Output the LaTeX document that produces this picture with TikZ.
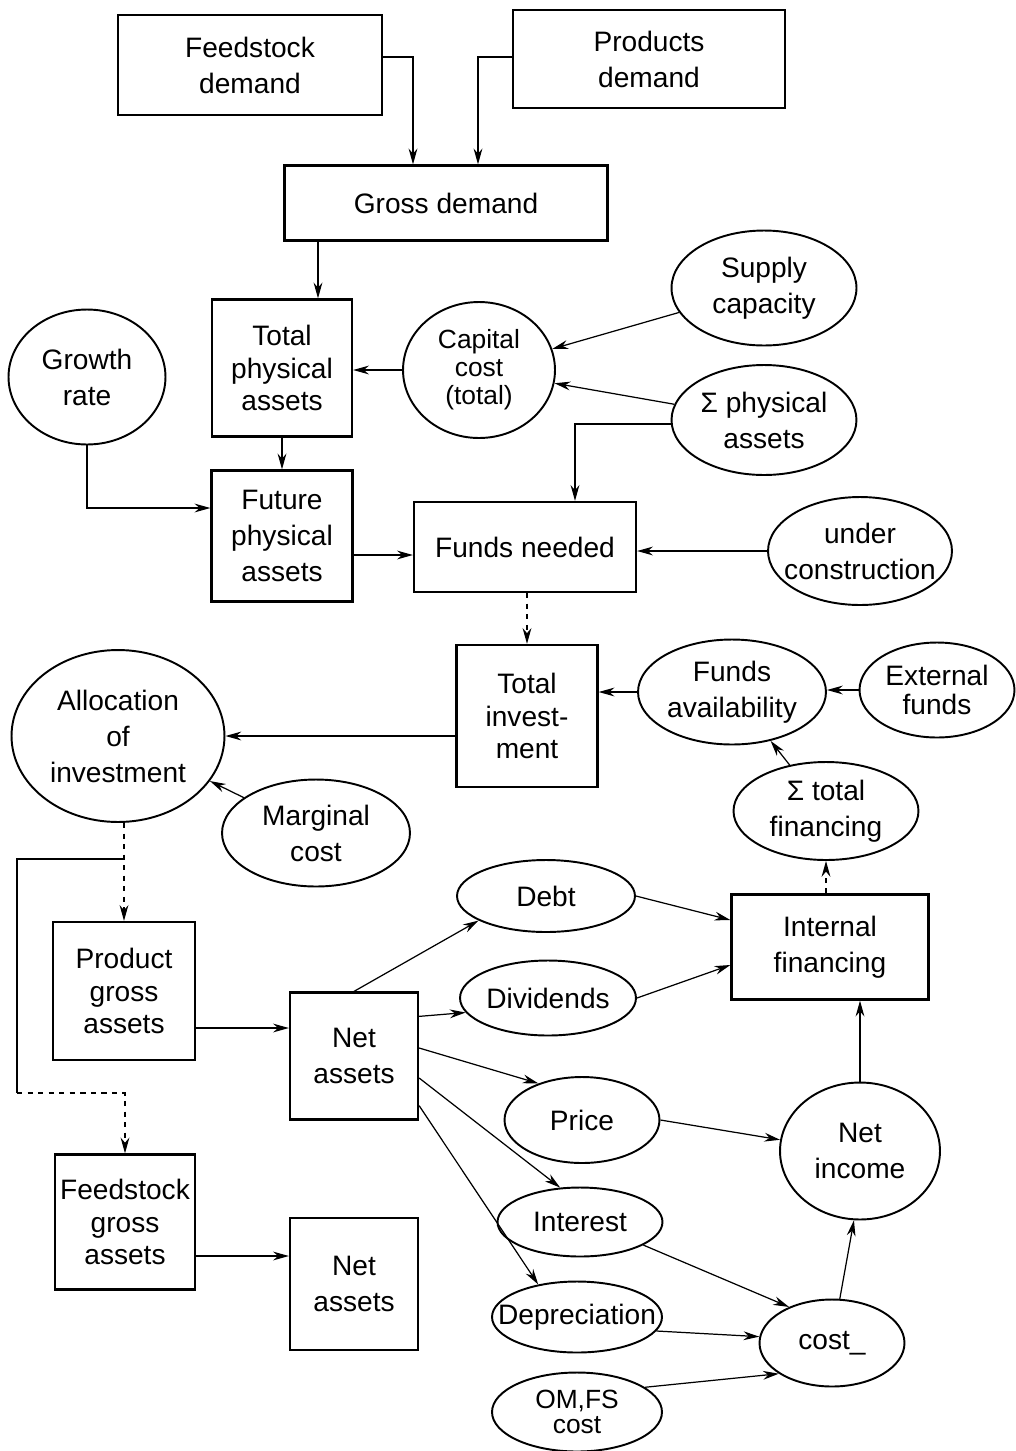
\documentclass[tikz,border=0pt]{standalone}
\usepackage{fontspec}
\setmainfont{Liberation Sans}
\usetikzlibrary{shapes.geometric,arrows.meta,calc}
\begin{document}
\begin{tikzpicture}[x=0.02cm,y=-0.02cm,
    font=\fontsize{16}{20.5}\selectfont,
    box/.style={rectangle,draw,line width=1.3pt,align=center,inner sep=2pt},
    oval/.style={ellipse,draw,line width=1.1pt,align=center,inner xsep=-0.5cm,inner ysep=-0.1cm},
    arr/.style={-{Stealth[length=9pt,width=5pt]},line width=0.7pt}]
  \useasboundingbox (0,0) rectangle (1016,1451);
  % boxes
  \node[box,minimum width=5.28cm,minimum height=2cm] (fd) at (250,65) {Feedstock\\demand};
  \node[box,minimum width=5.44cm,minimum height=1.96cm] (pd) at (649,59) {Products\\demand};
  \node[box,minimum width=6.46cm,minimum height=1.5cm] (gd) at (446,203) {Gross demand};
  \node[box,minimum width=2.8cm,minimum height=2.74cm,font=\fontsize{16}{18.5}\selectfont] (tpa) at (282,368) {Total\\physical\\assets};
  \node[box,minimum width=2.82cm,minimum height=2.62cm] (fpa) at (282,536) {Future\\physical\\assets};
  \node[box,minimum width=4.44cm,minimum height=1.8cm] (fn) at (525,547) {Funds needed};
  \node[box,minimum width=2.82cm,minimum height=2.84cm,font=\fontsize{16}{18.5}\selectfont] (ti) at (527,716) {Total\\invest-\\ment};
  \node[box,minimum width=3.94cm,minimum height=2.1cm] (inf) at (830,947) {Internal\\financing};
  \node[box,minimum width=2.84cm,minimum height=2.76cm,font=\fontsize{16}{18.5}\selectfont] (pga) at (124,991) {Product\\gross\\assets};
  \node[box,minimum width=2.56cm,minimum height=2.54cm] (na1) at (354,1056) {Net\\assets};
  \node[box,minimum width=2.8cm,minimum height=2.7cm,font=\fontsize{16}{18.5}\selectfont] (fga) at (125,1222) {Feedstock\\gross\\assets};
  \node[box,minimum width=2.56cm,minimum height=2.64cm] (na2) at (354,1284) {Net\\assets};
  % ovals
  \node[oval,minimum width=3.7cm,minimum height=2.3cm] (sc) at (764,288) {Supply\\capacity};
  \node[oval,minimum width=3.04cm,minimum height=2.72cm,font=\fontsize{15}{16}\selectfont] (cc) at (479,370) {Capital\\cost\\(total)};
  \node[oval,minimum width=3.14cm,minimum height=2.7cm] (gr) at (87,377) {Growth\\rate};
  \node[oval,minimum width=3.7cm,minimum height=2.2cm] (sp) at (764,420) {Σ physical\\assets};
  \node[oval,minimum width=3.68cm,minimum height=2.16cm] (uc) at (860,551) {under\\construction};
  \node[oval,minimum width=3.76cm,minimum height=2.1cm] (fa) at (732,692) {Funds\\availability};
  \node[oval,minimum width=3.1cm,minimum height=1.9cm,font=\fontsize{16}{17}\selectfont] (ef) at (937,690) {External\\funds};
  \node[oval,minimum width=4.26cm,minimum height=3.44cm] (ai) at (118,736) {Allocation\\of\\investment};
  \node[oval,minimum width=3.76cm,minimum height=2.14cm] (mc) at (316,833) {Marginal\\cost};
  \node[oval,minimum width=3.7cm,minimum height=1.96cm] (stf) at (826,811) {Σ total\\financing};
  \node[oval,minimum width=3.56cm,minimum height=1.44cm] (debt) at (546,896) {Debt};
  \node[oval,minimum width=3.52cm,minimum height=1.5cm] (div) at (548,998) {Dividends};
  \node[oval,minimum width=3.1cm,minimum height=1.72cm] (price) at (582,1120) {Price};
  \node[oval,minimum width=3.2cm,minimum height=2.74cm] (ni) at (860,1151) {Net\\income};
  \node[oval,minimum width=3.3cm,minimum height=1.38cm] (int) at (580,1222) {Interest};
  \node[oval,minimum width=3.4cm,minimum height=1.42cm] (dep) at (577,1317) {Depreciation};
  \node[oval,minimum width=2.9cm,minimum height=1.74cm] (cost) at (832,1343) {cost\_};
  \node[oval,minimum width=3.4cm,minimum height=1.58cm,font=\fontsize{15}{14}\selectfont] (om) at (577,1412) {OM,FS\\cost};
  % demand and assets
  \draw[arr] ($(fd.east)+(0,-8)$) -| ($(gd.north)+(-33,0)$);
  \draw[arr] ($(pd.west)+(0,-2)$) -| ($(gd.north)+(32,0)$);
  \draw[arr] ($(gd.south)+(-128,0)$) coordinate (g1) -- (g1 |- tpa.north);
  \draw[arr] (tpa) -- (fpa);
  \draw[arr] (cc.west) -- (cc.west -| tpa.east);
  \draw[arr] (sc) -- (cc);
  \draw[arr] (sp) -- (cc);
  \draw[arr] ($(sp.west)+(0,4)$) -| ($(fn.north)+(50,0)$);
  \draw[arr] (gr.south) |- ($(fpa.west)+(0,-28)$);
  \draw[arr] ($(fpa.east)+(0,19)$) coordinate (f1) -- (f1 -| fn.west);
  \draw[arr] (uc.west) -- (uc.west -| fn.east);
  % investment
  \draw[arr,dashed] (fn.south -| ti.north) -- (ti.north);
  \draw[arr] (fa.west) -- (fa.west -| ti.east);
  \draw[arr] (ef.west) -- (ef.west -| fa.east);
  \draw[arr] (stf) -- (fa);
  \draw[arr,dashed] (inf.north -| stf.south) -- (stf.south);
  \draw[arr] (ti.west |- ai.east) -- (ai.east);
  \draw[arr] (mc) -- (ai);
  \draw[arr,dashed] (ai.south -| pga.north) -- (pga.north);
  \coordinate (br) at ($(ai.south -| pga.north)+(0,36)$);
  \coordinate (lc) at (17,1093);
  \draw[line width=0.7pt] (br) -| (lc);
  \draw[arr,dashed] (lc) -| (fga.north);
  \draw[arr] ($(pga.east)+(0,37)$) coordinate (p1) -- (p1 -| na1.west);
  \draw[arr] ($(fga.east)+(0,34)$) coordinate (p2) -- (p2 -| na2.west);
  % net assets
  \draw[arr] (na1.north) -- (debt.200);
  \draw[arr] ($(na1.north east)+(0,25)$) -- (div.190);
  \draw[arr] ($(na1.east)+(0,-8)$) -- (price.140);
  \draw[arr] ($(na1.east)+(0,22)$) -- (int.120);
  \draw[arr] ($(na1.south east)+(0,-15)$) -- (dep.140);
  \draw[arr] (debt.east) -- ($(inf.west)+(0,-27)$);
  \draw[arr] (div.east) -- ($(inf.west)+(0,18)$);
  \draw[arr] (price.east) -- (ni.172);
  \draw[arr] (ni.north) -- (ni.north |- inf.south);
  \draw[arr] (int.-20) -- (cost.140);
  \draw[arr] (dep.-10) -- (cost.175);
  \draw[arr] (om.20) -- (cost.210);
  \draw[arr] (cost.80) -- (ni.-95);
\end{tikzpicture}
\end{document}
